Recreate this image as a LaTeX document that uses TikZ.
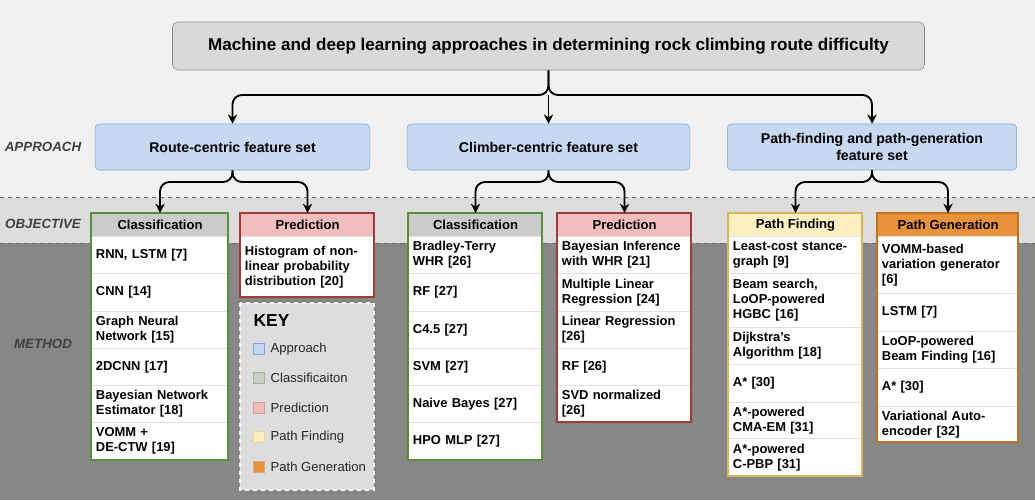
\documentclass[tikz,border=0pt]{standalone}
\usepackage{fontspec}
\setmainfont{Liberation Sans}
\usetikzlibrary{calc,arrows.meta}
\definecolor{topbg}{HTML}{F1F1F1}
\definecolor{objbg}{HTML}{DDDDDD}
\definecolor{methbg}{HTML}{878787}
\definecolor{appfill}{HTML}{C6D9F1}
\definecolor{appdraw}{HTML}{7EA6D8}
\definecolor{clsfill}{HTML}{C9CCC9}
\definecolor{clsdraw}{HTML}{5B8C3A}
\definecolor{prdfill}{HTML}{F2BDBD}
\definecolor{prddraw}{HTML}{A33A3A}
\definecolor{pffill}{HTML}{FCEFC2}
\definecolor{pfdraw}{HTML}{D6B656}
\definecolor{pgfill}{HTML}{E8923A}
\definecolor{pgdraw}{HTML}{C0701F}
\tikzset{
  arr/.style={draw=black,line width=1.4pt,-{Stealth[length=7pt,width=7pt]},rounded corners=7pt},
  apbox/.style={draw=appdraw,fill=appfill,rounded corners=3pt,align=center,font=\bfseries\fontsize{10.6}{12.5}\selectfont},
  hdr/.style={draw=#1,line width=0.8pt,anchor=north west,inner sep=0pt,font=\bfseries\fontsize{9.8}{11}\selectfont},
  rowbox/.style={draw=black!12,fill=white,anchor=north west,align=left,inner sep=3.5pt,font=\bfseries\fontsize{9.7}{11.3}\selectfont},
  lbl/.style={font=\bfseries\itshape\fontsize{10}{12}\selectfont,text=black!75},
  keyitem/.style={anchor=west,font=\fontsize{9.8}{11}\selectfont,text=black!85},
  keysq/.style={draw=black!50,minimum size=8pt,inner sep=0pt}
}
\newcommand{\mycol}[7]{% name, x0, x1, hdrfill, hdrdraw, title, rows y0/y1/text
  \pgfmathsetmacro\cw{(#3-#2)*0.75}
  \pgfmathsetmacro\tw{(#3-#2)*0.75-7}
  \node[hdr=#5,fill=#4,minimum width=\cw pt,minimum height=17.25pt] (#1h) at (#2,213) {#6};
  \foreach \ya/\yb/\t [count=\i] in {#7}{
    \pgfmathsetmacro\rh{(\yb-\ya)*0.75}
    \node[rowbox,minimum width=\cw pt,minimum height=\rh pt,text width=\tw pt] (#1r\i) at (#2,\ya) {\t};
    \coordinate (#1end) at (#3,\yb);
  }
  \draw[#5,line width=0.8pt] (#2,213) rectangle (#1end);
}
\begin{document}
\begin{tikzpicture}[x=0.75pt,y=-0.75pt]
\useasboundingbox (0,0) rectangle (1035,500);
\fill[topbg] (0,0) rectangle (1035,197);
\fill[objbg] (0,197) rectangle (1035,243);
\fill[methbg] (0,243) rectangle (1035,500);
\draw[black!60,dashed,line width=0.6pt] (0,197) -- (1035,197);
\draw[black!60,dashed,line width=0.6pt] (0,243) -- (1035,243);
\node[lbl] (lapp) at (43,147) {APPROACH};
\node[lbl] (lobj) at (43,224) {OBJECTIVE};
\node[lbl] (lmet) at (43,344) {METHOD};
\node[draw=black!45,fill=black!15,rounded corners=4pt,minimum width=564pt,minimum height=36pt,font=\bfseries\fontsize{12.8}{15}\selectfont] (title) at (548.5,46) {Machine and deep learning approaches in determining rock climbing route difficulty};
\node[apbox,minimum width=206pt,minimum height=34.5pt] (app1) at (232.5,147) {Route-centric feature set};
\node[apbox,minimum width=212pt,minimum height=34.5pt] (app2) at (548.5,147) {Climber-centric feature set};
\node[apbox,minimum width=217pt,minimum height=34.5pt] (app3) at (872,147) {Path-finding and path-generation\\feature set};
\coordinate (j0) at (548.5,95);
\draw[arr] (title.south) -- (j0) -| (app1.north);
\draw[arr] (title.south) -- (j0) -| (app3.north);
\draw[arr] (j0) -- (app2.north);
\mycol{a}{91}{228}{clsfill}{clsdraw}{Classification}{236/273/{RNN, LSTM [7]},273/311/{CNN [14]},311/348/{Graph Neural\\Network [15]},348/385/{2DCNN [17]},385/422/{Bayesian Network\\Estimator [18]},422/460/{VOMM +\\DE-CTW [19]}}
\mycol{b}{240}{374}{prdfill}{prddraw}{Prediction}{236/297/{Histogram of non-\\linear probability\\distribution [20]}}
\mycol{c}{408}{542}{clsfill}{clsdraw}{Classification}{236/273/{Bradley-Terry\\WHR [26]},273/311/{RF [27]},311/348/{C4.5 [27]},348/385/{SVM [27]},385/422/{Naive Bayes [27]},422/460/{HPO MLP [27]}}
\mycol{d}{557}{691}{prdfill}{prddraw}{Prediction}{236/273/{Bayesian Inference\\with WHR [21]},273/311/{Multiple Linear\\Regression [24]},311/348/{Linear Regression\\{[26]}},348/385/{RF [26]},385/422/{SVD normalized\\{[26]}}}
\mycol{e}{728}{862}{pffill}{pfdraw}{Path Finding}{236/273/{Least-cost stance-\\graph [9]},273/327/{Beam search,\\LoOP-powered\\HGBC [16]},327/364/{Dijkstra's\\Algorithm [18]},364/402/{A* [30]},402/438/{A*-powered\\CMA-EM [31]},438/476/{A*-powered\\C-PBP [31]}}
\mycol{f}{877}{1018}{pgfill}{pgdraw}{Path Generation}{236/293/{VOMM-based\\variation generator\\{[6]}},293/331/{LSTM [7]},331/368/{LoOP-powered\\Beam Finding [16]},368/406/{A* [30]},406/442/{Variational Auto-\\encoder [32]}}
\coordinate (j1) at (232.5,182);
\draw[arr] (app1.south) -- (j1) -| (ah.north);
\draw[arr] (app1.south) -- (j1) -| (bh.north);
\coordinate (j2) at (548.5,182);
\draw[arr] (app2.south) -- (j2) -| (ch.north);
\draw[arr] (app2.south) -- (j2) -| (dh.north);
\coordinate (j3) at (872,182);
\draw[arr] (app3.south) -- (j3) -| (eh.north);
\draw[arr] (app3.south) -- (j3) -| (fh.north);
\draw[white,dashed,line width=0.8pt,fill=objbg] (240,303) rectangle (374,490);
\node[anchor=west,font=\bfseries\fontsize{13}{15}\selectfont] (key) at (249,321) {KEY};
\node[keysq,fill=appfill,draw=appdraw] (k1) at (259,349) {};
\node[keyitem] (k1t) at (266,349) {Approach};
\node[keysq,fill=clsfill,draw=clsdraw!60] (k2) at (259,378) {};
\node[keyitem] (k2t) at (266,378) {Classificaiton};
\node[keysq,fill=prdfill,draw=prddraw!50] (k3) at (259,408) {};
\node[keyitem] (k3t) at (266,408) {Prediction};
\node[keysq,fill=pffill,draw=pfdraw!60] (k4) at (259,437) {};
\node[keyitem] (k4t) at (266,437) {Path Finding};
\node[keysq,fill=pgfill,draw=pgdraw!60] (k5) at (259,467) {};
\node[keyitem] (k5t) at (266,467) {Path Generation};
\end{tikzpicture}
\end{document}
